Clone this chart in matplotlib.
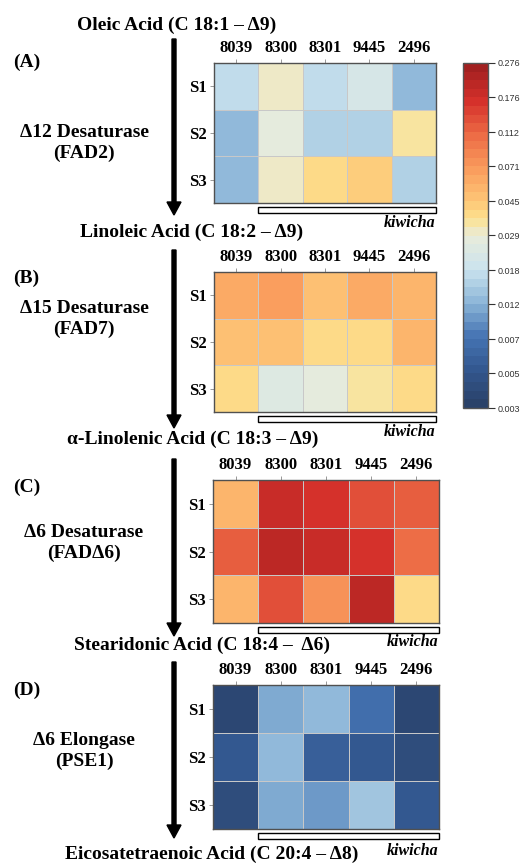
import matplotlib
matplotlib.use("Agg")
import matplotlib.pyplot as plt
import numpy as np
from matplotlib.colors import LinearSegmentedColormap, LogNorm
from matplotlib.patches import Rectangle
from matplotlib.transforms import blended_transform_factory
from matplotlib.cm import ScalarMappable

plt.rcParams['font.family'] = ['Liberation Serif', 'DejaVu Serif']

# accessions and stages
accessions = ['8039', '8300', '8301', '9445', '2496']
stages = ['S1', 'S2', 'S3']

# relative expression, one 3x5 block per enzyme (rows = stages)
fad2 = [[0.0175, 0.0316, 0.0183, 0.0210, 0.0128],
        [0.0127, 0.0275, 0.0160, 0.0157, 0.0330],
        [0.0130, 0.0310, 0.0370, 0.0410, 0.0160]]
fad7 = [[0.059, 0.071, 0.047, 0.059, 0.052],
        [0.048, 0.048, 0.037, 0.037, 0.051],
        [0.0395, 0.023, 0.0275, 0.033, 0.0377]]
fad6 = [[0.054, 0.176, 0.160, 0.140, 0.112],
        [0.117, 0.220, 0.176, 0.164, 0.102],
        [0.055, 0.140, 0.078, 0.200, 0.040]]
pse1 = [[0.0036, 0.0111, 0.0122, 0.0074, 0.0037],
        [0.0049, 0.0122, 0.0054, 0.0052, 0.0038],
        [0.0041, 0.0111, 0.0093, 0.0140, 0.0049]]

letters = ['(A)', '(B)', '(C)', '(D)']
enzymes = ['\u039412 Desaturase\n(FAD2)', '\u039415 Desaturase\n(FAD7)',
           '\u03946 Desaturase\n(FAD\u03946)', '\u03946 Elongase\n(PSE1)']
acids = ['Oleic Acid (C 18:1 \u2013 \u03949)',
         'Linoleic Acid (C 18:2 \u2013 \u03949)',
         '\u03b1-Linolenic Acid (C 18:3 \u2013 \u03949)',
         'Stearidonic Acid (C 18:4 \u2013  \u03946)',
         'Eicosatetraenoic Acid (C 20:4 \u2013 \u03948)']

cbar_min, cbar_max = 0.003, 0.276
cbar_labels = ['0.003', '0.005', '0.007', '0.012', '0.018', '0.029',
               '0.045', '0.071', '0.112', '0.176', '0.276']

W, H = 523, 863

# blue -> pale -> yellow -> red, sampled off the reference bar
cmap = LinearSegmentedColormap.from_list('expr', [
    (0.0, '#2a4269'), (0.1, '#33578f'), (0.2, '#4574b3'), (0.3, '#8cb6d8'),
    (0.4, '#cbe3ee'), (0.5, '#e9ecda'), (0.55, '#fde28f'), (0.6, '#fdc777'),
    (0.7, '#fa9b5c'), (0.8, '#ec6a45'), (0.9, '#d4302a'), (1.0, '#a22020')], N=40)
norm = LogNorm(vmin=cbar_min, vmax=cbar_max)


def px_rect(left, top, right, bottom):
    # pixel box -> figure fraction
    return [left / W, 1 - bottom / H, (right - left) / W, (bottom - top) / H]


fig = plt.figure(figsize=(W / 100, H / 100), dpi=100)

# overlay in pixel units for arrows and text
over = fig.add_axes([0, 0, 1, 1])
over.set_xlim(0, W)
over.set_ylim(H, 0)
over.axis('off')

boxes = [(214, 63, 436, 203), (214, 272, 436, 412),
         (213, 480, 439, 623), (213, 685, 439, 829)]
arrows = [(39, 215), (250, 428), (459, 636), (662, 838)]
letter_y = [62, 278, 487, 690]
enzyme_y = [143, 319, 543, 751]
acid_pos = [(177, 25), (192, 232), (193, 439), (202, 645), (212, 854)]
kiwicha_y = [223, 432, 642, 851]

for i, data in enumerate([fad2, fad7, fad6, pse1]):
    ax = fig.add_axes(px_rect(*boxes[i]))
    ax.pcolormesh(np.array(data), cmap=cmap, norm=norm,
                  edgecolors='#c8c8c8', linewidth=0.5)
    ax.set_xlim(0, len(accessions))
    ax.set_ylim(len(stages), 0)
    ax.xaxis.tick_top()
    ax.set_xticks(np.arange(len(accessions)) + 0.5)
    ax.set_xticklabels(accessions, fontsize=12, fontweight='bold')
    ax.set_yticks(np.arange(len(stages)) + 0.5)
    ax.set_yticklabels(stages, fontsize=12, fontweight='bold')
    ax.tick_params(length=3, width=0.6, color='#888888', pad=2)
    for s in ax.spines.values():
        s.set_color('#505050')
        s.set_linewidth(1)

    # kiwicha bar under accessions 2-5
    tr = blended_transform_factory(ax.transData, over.transData)
    bottom = boxes[i][3]
    over.add_patch(Rectangle((1, bottom + 4), len(accessions) - 1, 6, transform=tr,
                             fill=False, ec='black', lw=1, clip_on=False))
    over.text(boxes[i][2] - 1, kiwicha_y[i], 'kiwicha', ha='right', va='center',
              fontsize=11.5, fontweight='bold', style='italic')

    over.arrow(174, arrows[i][0], 0, arrows[i][1] - arrows[i][0], width=4,
               head_width=14, head_length=13, length_includes_head=True,
               fc='black', ec='black')
    over.text(13, letter_y[i], letters[i], ha='left', va='center',
              fontsize=14, fontweight='bold')
    over.text(84, enzyme_y[i], enzymes[i], ha='center', va='center',
              fontsize=14, fontweight='bold', linespacing=1.25)

for (x, y), name in zip(acid_pos, acids):
    over.text(x, y, name, ha='center', va='center', fontsize=14, fontweight='bold')

# colour bar with evenly spaced log ticks
cax = fig.add_axes(px_rect(463, 63, 488, 408))
sm = ScalarMappable(norm=norm, cmap=cmap)
cb = fig.colorbar(sm, cax=cax)
cb.set_ticks(np.geomspace(cbar_min, cbar_max, len(cbar_labels)))
cb.set_ticklabels(cbar_labels)
cb.minorticks_off()
cax.tick_params(length=5, width=0.8, color='#333333', labelsize=6.5,
                labelcolor='#333333', pad=2)
for lab in cax.get_yticklabels():
    lab.set_family('Liberation Sans')
cb.outline.set_edgecolor('#555555')
cb.outline.set_linewidth(1)

fig.savefig('out.png', dpi=100)
